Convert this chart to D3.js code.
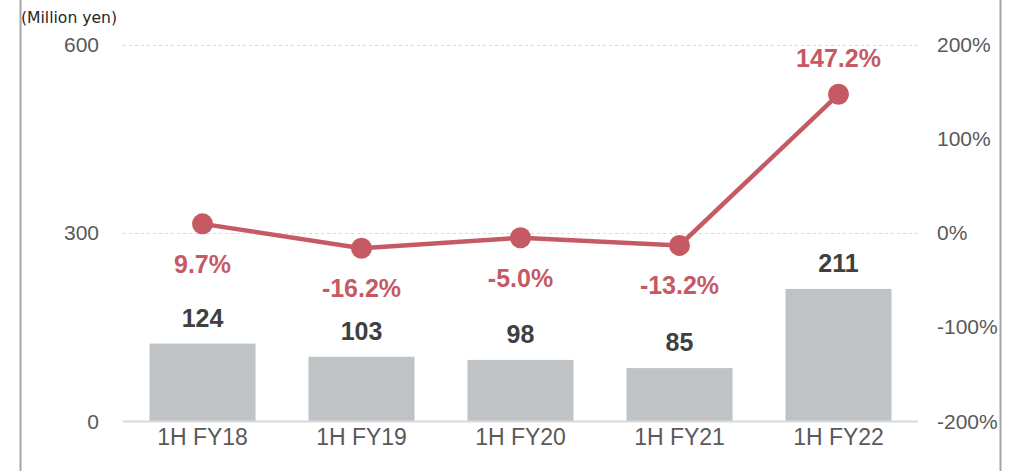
<!DOCTYPE html>
<html><head><meta charset="utf-8">
<script src="https://cdn.jsdelivr.net/npm/d3@7"></script>
<style>body{margin:0;background:#fff}svg{display:block}</style>
</head><body>
<svg id="c" width="1013" height="471"></svg>
<script>
const categories = ["1H FY18","1H FY19","1H FY20","1H FY21","1H FY22"];
const sales = [124,103,98,85,211];
const growth = [9.7,-16.2,-5.0,-13.2,147.2];
const growthLabels = ["9.7%","-16.2%","-5.0%","-13.2%","147.2%"];
const leftTicks = [0,300,600];
const rightTicks = [-200,-100,0,100,200];
const unitLabel = "(Million yen)";

(function(){
const svg = d3.select("#c");
const W = 1013, H = 471;
const pL = 123, pR = 918, pT = 44.5, pB = 421.5;
const font = "'Liberation Sans', Arial, sans-serif";

// frame lines
svg.append("line").attr("x1",20.5).attr("x2",20.5).attr("y1",0).attr("y2",H).attr("stroke","#a6a6a6").attr("stroke-width",2);
svg.append("line").attr("x1",1000.5).attr("x2",1000.5).attr("y1",0).attr("y2",H).attr("stroke","#a6a6a6").attr("stroke-width",2);

const x = d3.scaleBand().domain(categories).range([pL,pR]).paddingInner(0.333).paddingOuter(0.1665);
const y = d3.scaleLinear().domain([0,600]).range([pB,pT]);
const y2 = d3.scaleLinear().domain([-200,200]).range([pB,pT]);

// gridlines
svg.append("g").selectAll("line").data(leftTicks.filter(d=>d>0)).join("line")
  .attr("x1",pL).attr("x2",pR).attr("y1",d=>Math.round(y(d))+0.5).attr("y2",d=>Math.round(y(d))+0.5)
  .attr("stroke","#d9d9d9").attr("stroke-width",1).attr("stroke-dasharray","3,3");

// bars
svg.append("g").selectAll("rect").data(sales).join("rect")
  .attr("x",(d,i)=>x(categories[i])).attr("width",x.bandwidth())
  .attr("y",d=>y(d)).attr("height",d=>y(0)-y(d)).attr("fill","#bfc3c5");

// baseline
svg.append("line").attr("x1",pL).attr("x2",pR).attr("y1",pB).attr("y2",pB).attr("stroke","#d9d9d9").attr("stroke-width",2);

// left axis
const ax = svg.append("g").attr("transform",`translate(99,0)`).call(d3.axisLeft(y).tickValues(leftTicks).tickSize(0).tickPadding(0));
ax.select(".domain").remove();
ax.selectAll("text").attr("font-family",font).attr("font-size",21).attr("fill","#595959");

// right axis
const ax2 = svg.append("g").attr("transform",`translate(937,0)`).call(d3.axisRight(y2).tickValues(rightTicks).tickSize(0).tickPadding(0).tickFormat(d=>d+"%"));
ax2.select(".domain").remove();
ax2.selectAll("text").attr("font-family",font).attr("font-size",21).attr("fill","#595959");

// x axis
const ax3 = svg.append("g").attr("transform",`translate(0,${pB})`).call(d3.axisBottom(x).tickSize(0).tickPadding(7));
ax3.select(".domain").remove();
ax3.selectAll("text").attr("font-family",font).attr("font-size",23).attr("fill","#595959");

// unit label
svg.append("text").attr("x",21).attr("y",23).text(unitLabel)
  .attr("font-family","'DejaVu Sans', Verdana, sans-serif").attr("font-size",15.6).attr("fill","#262626");

// bar value labels
svg.append("g").selectAll("text").data(sales).join("text")
  .attr("x",(d,i)=>x(categories[i])+x.bandwidth()/2).attr("y",d=>y(d)-17)
  .attr("text-anchor","middle").attr("font-family",font).attr("font-weight","bold").attr("font-size",25)
  .attr("fill","#404040").text(d=>d);

// line
const cx = (d,i)=>x(categories[i])+x.bandwidth()/2;
const lineGen = d3.line().x((d,i)=>cx(d,i)).y(d=>y2(d));
svg.append("path").datum(growth).attr("d",lineGen).attr("fill","none").attr("stroke","#c55a64").attr("stroke-width",4.5);
svg.append("g").selectAll("circle").data(growth).join("circle")
  .attr("cx",cx).attr("cy",d=>y2(d)).attr("r",10.5).attr("fill","#c55a64");

// growth labels
svg.append("g").selectAll("text").data(growth).join("text")
  .attr("x",cx).attr("y",(d,i)=> i===4 ? y2(d)-27 : y2(d)+49)
  .attr("text-anchor","middle").attr("font-family",font).attr("font-weight","bold").attr("font-size",25)
  .attr("fill","#c55a64").text((d,i)=>growthLabels[i]);
})();
</script>
</body></html>
